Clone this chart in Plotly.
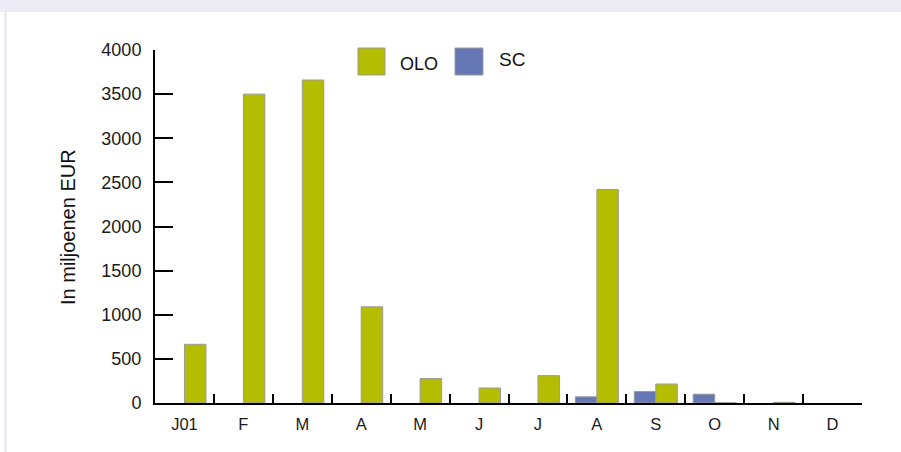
import plotly.graph_objects as go

# Monthly issuance, in millions of EUR
months = ["J01", "F", "M", "A", "M", "J", "J", "A", "S", "O", "N", "D"]
olo = [665, 3500, 3660, 1090, 277, 170, 310, 2420, 215, 3, 8, None]
sc = [None, None, None, None, None, None, None, 70, 130, 100, None, None]
y_ticks = [0, 500, 1000, 1500, 2000, 2500, 3000, 3500, 4000]

OLO_COLOR = "#B5BD00"
SC_COLOR = "#6677B5"
EDGE = "#9A9A9A"
FRAME = "#ECEBF4"
FONT = "Liberation Sans, Arial, sans-serif"

W, H = 901, 452
L, R, T, B = 155, 39, 50, 49
PW, PH = W - L - R, H - T - B


def px(x):
    return (x - L) / PW


def py(y):
    return (H - B - y) / PH


pos = list(range(len(months)))

fig = go.Figure()
fig.add_trace(go.Bar(x=pos, y=sc, name="SC", marker=dict(color=SC_COLOR, line=dict(color=EDGE, width=1))))
fig.add_trace(go.Bar(x=pos, y=olo, name="OLO", marker=dict(color=OLO_COLOR, line=dict(color=EDGE, width=1))))
# carrier trace for the month-label axis
fig.add_trace(go.Scatter(x=[pos[0]], y=[None], xaxis="x2", showlegend=False, hoverinfo="skip"))

fig.update_layout(
    width=W, height=H,
    margin=dict(l=L, r=R, t=T, b=B),
    paper_bgcolor="white", plot_bgcolor="white",
    barmode="group", bargap=0.27, bargroupgap=0,
    showlegend=False,
    font=dict(family=FONT, size=17, color="#1a1a1a"),
    xaxis=dict(
        range=[-0.5, len(months) - 0.5],
        tickmode="array", tickvals=[i + 0.5 for i in pos],
        showticklabels=False, ticks="inside", ticklen=9, tickwidth=2, tickcolor="black",
        showline=True, linecolor="black", linewidth=2, showgrid=False, zeroline=False,
        fixedrange=True,
    ),
    xaxis2=dict(
        overlaying="x", anchor="y", side="bottom",
        range=[-0.5, len(months) - 0.5],
        tickmode="array", tickvals=pos, ticktext=months,
        ticks="", showline=False, showgrid=False, zeroline=False,
        ticklabelstandoff=9, tickfont=dict(size=16.5),
    ),
    yaxis=dict(
        range=[0, 4000], tickmode="array", tickvals=y_ticks,
        ticks="inside", ticklen=18, tickwidth=2, tickcolor="black",
        showline=True, linecolor="black", linewidth=2, showgrid=False, zeroline=False,
        ticklabelstandoff=8, tickfont=dict(size=18),
    ),
)

# page frame: band along the top and a thin strip down the left
fig.add_shape(type="rect", xref="paper", yref="paper",
              x0=px(0), x1=px(W), y0=py(12), y1=py(0),
              fillcolor=FRAME, line=dict(width=0), layer="below")
fig.add_shape(type="rect", xref="paper", yref="paper",
              x0=px(4), x1=px(7), y0=py(H), y1=py(12),
              fillcolor=FRAME, line=dict(width=0), layer="below")

# legend swatches and labels
fig.add_shape(type="rect", xref="paper", yref="paper",
              x0=px(358), x1=px(385), y0=py(75), y1=py(48),
              fillcolor=OLO_COLOR, line=dict(color=EDGE, width=1))
fig.add_shape(type="rect", xref="paper", yref="paper",
              x0=px(455), x1=px(483), y0=py(75), y1=py(48),
              fillcolor=SC_COLOR, line=dict(color=EDGE, width=1))
fig.add_annotation(text="OLO", xref="paper", yref="paper", x=px(419), y=py(64),
                   xanchor="center", yanchor="middle",
                   showarrow=False, font=dict(size=18, color="#111111"))
fig.add_annotation(text="SC", xref="paper", yref="paper", x=px(512), y=py(60),
                   xanchor="center", yanchor="middle",
                   showarrow=False, font=dict(size=19, color="#111111"))

# y-axis title
fig.add_annotation(text="In miljoenen EUR", xref="paper", yref="paper",
                   x=px(68), y=py(227), textangle=-90, showarrow=False,
                   xanchor="center", yanchor="middle",
                   font=dict(size=20, color="#111111"))

fig.write_html("out.html")
